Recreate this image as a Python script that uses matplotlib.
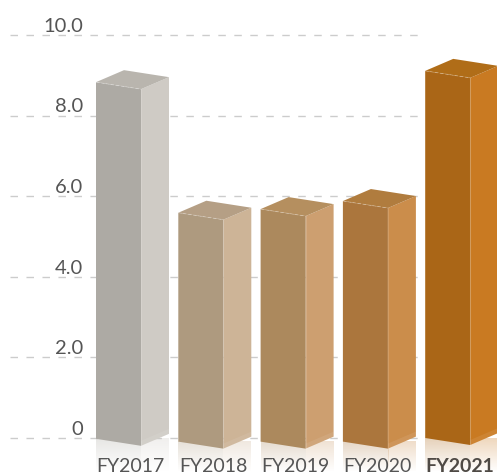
import matplotlib
matplotlib.use("Agg")
import matplotlib.pyplot as plt
import matplotlib.colors as mc
import numpy as np

years = ["FY2017", "FY2018", "FY2019", "FY2020", "FY2021"]
values = [8.83, 5.59, 5.68, 5.88, 9.11]
ticks = [0, 2, 4, 6, 8, 10]
tick_labels = ["0", "2.0", "4.0", "6.0", "8.0", "10.0"]
front_cols = ["#ADAAA4", "#AE9A7F", "#AC895D", "#AB763D", "#AA6617"]
side_cols = ["#CFCBC5", "#CDB497", "#CD9F70", "#CB8D4B", "#C97A22"]
top_cols = ["#B9B5AE", "#B59F85", "#B58F5F", "#B07C3E", "#B06D18"]
base_shift = [0.02, 0.09, 0.09, 0.09, 0.0]

plt.rcParams["font.family"] = ["Lato", "DejaVu Sans"]

px_y = 40.3   # pixels per value unit
px_x = 82.3   # pixels per category
fig = plt.figure(figsize=(4.97, 4.74), dpi=100)
ax = fig.add_axes([0, 0, 1, 1])
ax.axis("off")

x0 = -96 / px_x
xlim = (x0, x0 + 497 / px_x)
ylim = (-36 / px_y, 438 / px_y)

w = 45 / px_x       # front face
d = 28 / px_x       # side face
drop = 7 / px_y     # front edge slope
rise = 12 / px_y    # side edge slope

# gridlines
for t, lab in zip(ticks, tick_labels):
    ax.plot([10 / px_x + x0, 418 / px_x + x0], [t, t], color="#CCCCCC", lw=1.0,
            dashes=(7.5 / 1.39, 8.5 / 1.39), zorder=1)
    ax.text(83 / px_x + x0, t + 0.2 / px_y, lab, ha="right", va="bottom",
            fontsize=14.5, color="#555555", zorder=6)

fade = np.linspace(0.3, 0, 64).reshape(-1, 1)
for i, (y, v) in enumerate(zip(years, values)):
    fc, sc, tc = front_cols[i], side_cols[i], top_cols[i]
    b = -base_shift[i]
    # reflection under the bar
    for col, xa, xb in ((fc, i, i + w), (sc, i + w, i + w + d)):
        img = np.ones((64, 1, 4))
        img[..., :3] = mc.to_rgb(col)
        img[..., 3] = fade
        ax.imshow(img, extent=(xa, xb, ylim[0] + 2 / px_y, b), aspect="auto", zorder=2,
                  interpolation="bilinear")
    # side, front and top faces
    ax.fill([i + w, i + w + d, i + w + d, i + w],
            [b - drop, b - drop + rise, v - drop + rise, v - drop], color=sc, lw=0, zorder=3)
    ax.fill([i, i + w, i + w, i], [b, b - drop, v - drop, v], color=fc, lw=0, zorder=3)
    ax.fill([i, i + w, i + w + d, i + d], [v, v - drop, v - drop + rise, v + rise],
            color=tc, lw=0, zorder=3)
    # lighter strip at the foot of the side face
    ax.fill([i + w, i + w + d, i + w + d, i + w],
            [b - drop, b - drop + rise, b - drop + rise + 5 / px_y, b - drop + 5 / px_y],
            color="white", alpha=0.08, lw=0, zorder=4)
    # highlight edges
    ax.plot([i + w, i + w], [b - drop, v - drop], color="white", alpha=0.15, lw=0.8, zorder=5)
    ax.plot([i, i + w], [v, v - drop], color="white", alpha=0.3, lw=0.6,
            dashes=(4, 2), zorder=5)
    ax.text(i + w / 2 + 0.15, -28 / px_y, y, ha="center", va="center", fontsize=14,
            color="#555555" if i < 4 else "#4F4A45", fontweight="bold" if i == 4 else "normal",
            zorder=6)

ax.set_xlim(xlim)
ax.set_ylim(ylim)
fig.savefig("out.png", dpi=100)
